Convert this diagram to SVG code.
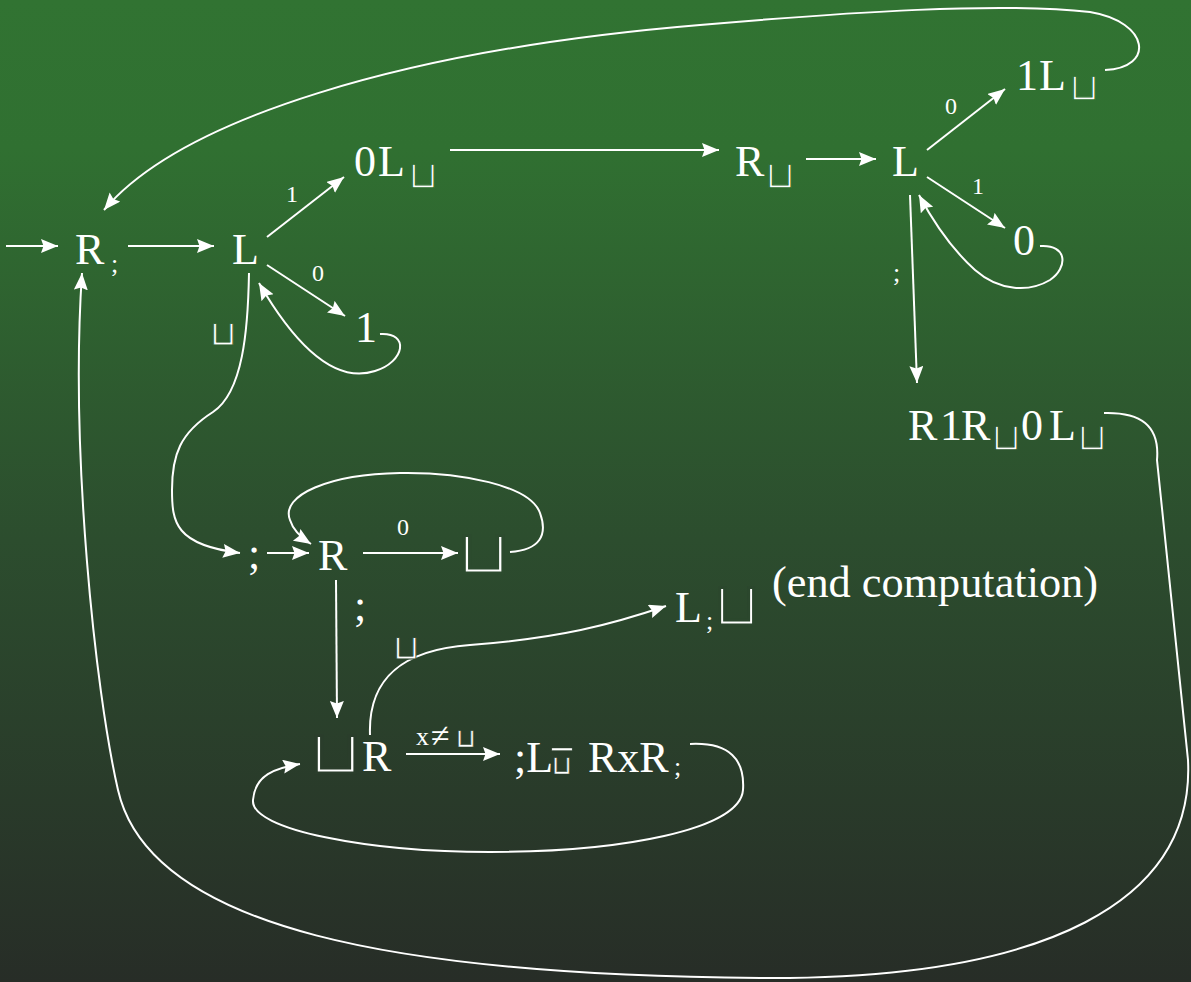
<svg xmlns="http://www.w3.org/2000/svg" width="1191" height="982" viewBox="0 0 1191 982">
<defs>
<linearGradient id="bg" x1="0" y1="0" x2="0" y2="1">
<stop offset="0" stop-color="#317332"/>
<stop offset="0.15" stop-color="#307031"/>
<stop offset="0.55" stop-color="#2c4d2e"/>
<stop offset="1" stop-color="#272d27"/>
</linearGradient>
<marker id="ah" markerWidth="18" markerHeight="15" refX="17" refY="7" orient="auto" markerUnits="userSpaceOnUse">
<path d="M0,0 L17,7 L0,14 L2.5,7 z" fill="#fff"/>
</marker>
<style>
.t{font-family:"Liberation Serif","Times New Roman",serif;fill:#fff;font-size:44px}
.s{font-family:"Liberation Serif","Times New Roman",serif;fill:#fff;font-size:26px}
.l{font-family:"Liberation Serif","Times New Roman",serif;fill:#fff;font-size:24px}
.c{font-family:"DejaVu Sans",sans-serif;fill:#fff;text-anchor:middle}
.cs{font-size:38px;stroke-width:1.3px}
.cb{font-size:60px;stroke-width:3px}
.cl{font-size:34px;stroke-width:0.8px}
.cx{font-size:26px;stroke-width:0.4px}
.e{fill:none;stroke:#fff;stroke-width:2}
.a{marker-end:url(#ah)}
</style>
</defs>
<rect x="0" y="0" width="1191" height="982" fill="url(#bg)"/>
<g id="connectors">
<path class="e a" d="M6,246 L58,246"/>
<path class="e a" d="M128,246 L214,246"/>
<path class="e a" d="M267,237 L344,177"/>
<path class="e a" d="M267,265 L345,316"/>
<path class="e a" d="M380,334 C410,332 405,362 375,371 C335,384 295,345 259,283"/>
<path class="e a" d="M249,273 C248,330 243,392 213,412 C180,433 172,455 172,490 C172,522 175,545 240,553"/>
<path class="e a" d="M450,150 L719,150"/>
<path class="e a" d="M806,159 L876,159"/>
<path class="e a" d="M927,150 L1005,89"/>
<path class="e a" d="M927,177 L1005,228"/>
<path class="e a" d="M1040,246 C1068,244 1068,268 1050,280 C1030,292 1000,292 975,270 C955,252 935,225 919,195"/>
<path class="e a" d="M910,195 L917,383"/>
<path class="e a" d="M1105,70 C1155,68 1150,22 1090,12 C1000,2 850,12 700,25 C400,50 180,120 104,210"/>
<path class="e a" d="M1104,413 C1140,412 1160,425 1157,460 L1188,760 C1195,900 1050,980 760,978 C400,975 150,930 118,790 C95,690 70,450 82,273"/>
<path class="e a" d="M267,553 L309,553"/>
<path class="e a" d="M363,553 L458,553"/>
<path class="e a" d="M510,552 C540,550 548,535 540,513 C530,485 460,472 400,473 C330,474 280,495 290,520 C293,530 300,537 311,544"/>
<path class="e a" d="M336,580 L337,718"/>
<path class="e a" d="M370,735 C368,680 400,650 470,645 C560,638 610,625 666,606"/>
<path class="e a" d="M406,754 L500,754"/>
<path class="e a" d="M690,744 C730,742 745,760 743,790 C740,830 620,852 490,852 C370,852 250,830 253,800 C255,775 275,768 300,764"/>
<text class="l" x="286" y="202">1</text>
<text class="l" x="312" y="281">0</text>
<text class="c cl" x="223" y="345" stroke="#2e5f2f">⊔</text>
<text class="l" x="945" y="114">0</text>
<text class="l" x="972" y="194">1</text>
<text class="s" x="893" y="281">;</text>
<text class="l" x="397" y="535">0</text>
<text class="t" x="354" y="620" font-size="38">;</text>
<text class="c cl" x="406" y="659" stroke="#2b452d">⊔</text>
<text class="s" x="416" y="745">x<tspan x="431" y="747" font-size="34">≠</tspan></text>
<text class="c cx" x="466" y="747" stroke="#2a3e2b">⊔</text>
</g>
<g id="n-Rsemi"><text class="t" x="75" y="264">R</text><text class="s" x="111" y="272">;</text></g>
<g id="n-L1"><text class="t" x="232" y="264">L</text></g>
<g id="n-0Lb"><text class="t" x="354" y="176">0</text><text class="t" x="378" y="176">L</text><text class="c cs" x="423" y="188" stroke="#306e31">⊔</text></g>
<g id="n-Rb"><text class="t" x="735" y="176">R</text><text class="c cs" x="780" y="188" stroke="#306e31">⊔</text></g>
<g id="n-L2"><text class="t" x="892" y="176">L</text></g>
<g id="n-1Lb"><text class="t" x="1016" y="90">1</text><text class="t" x="1039" y="90">L</text><text class="c cs" x="1084" y="100" stroke="#317232">⊔</text></g>
<g id="n-0"><text class="t" x="1013" y="255">0</text></g>
<g id="n-R1R0L"><text class="t" x="908" y="440">R</text><text class="t" x="940" y="440">1</text><text class="t" x="961" y="440">R</text><text class="c cs" x="1006" y="450" stroke="#2d562f">⊔</text><text class="t" x="1021" y="440">0</text><text class="t" x="1049" y="440">L</text><text class="c cs" x="1092" y="450" stroke="#2d562f">⊔</text></g>
<g id="n-1"><text class="t" x="355" y="342">1</text></g>
<g id="n-semi"><text class="t" x="248" y="568">;</text></g>
<g id="n-R2"><text class="t" x="318" y="570">R</text></g>
<g id="n-blank"><text class="c cb" transform="translate(484,573) scale(1.15,1)" stroke="#2c4b2e">⊔</text></g>
<g id="n-Lend"><text class="t" x="675" y="622">L<tspan class="s" x="706" y="629">;</tspan><tspan class="c cb" x="737" y="625" stroke="#2b472d">⊔</tspan></text><text class="t" x="772" y="597" font-size="40" textLength="326" lengthAdjust="spacingAndGlyphs">(end computation)</text></g>
<g id="n-bR"><text class="c cb" transform="translate(336,773) scale(1.15,1)" stroke="#2a3d2b">⊔</text><text class="t" x="362" y="771">R</text></g>
<g id="n-LRxR"><text class="t" x="514" y="772">;L</text><text class="c cx" x="562" y="774" stroke="#2a3d2b" style="text-decoration:overline">⊔</text><text class="t" x="588" y="772">RxR</text><text class="s" x="674" y="775">;</text></g>
</svg>
